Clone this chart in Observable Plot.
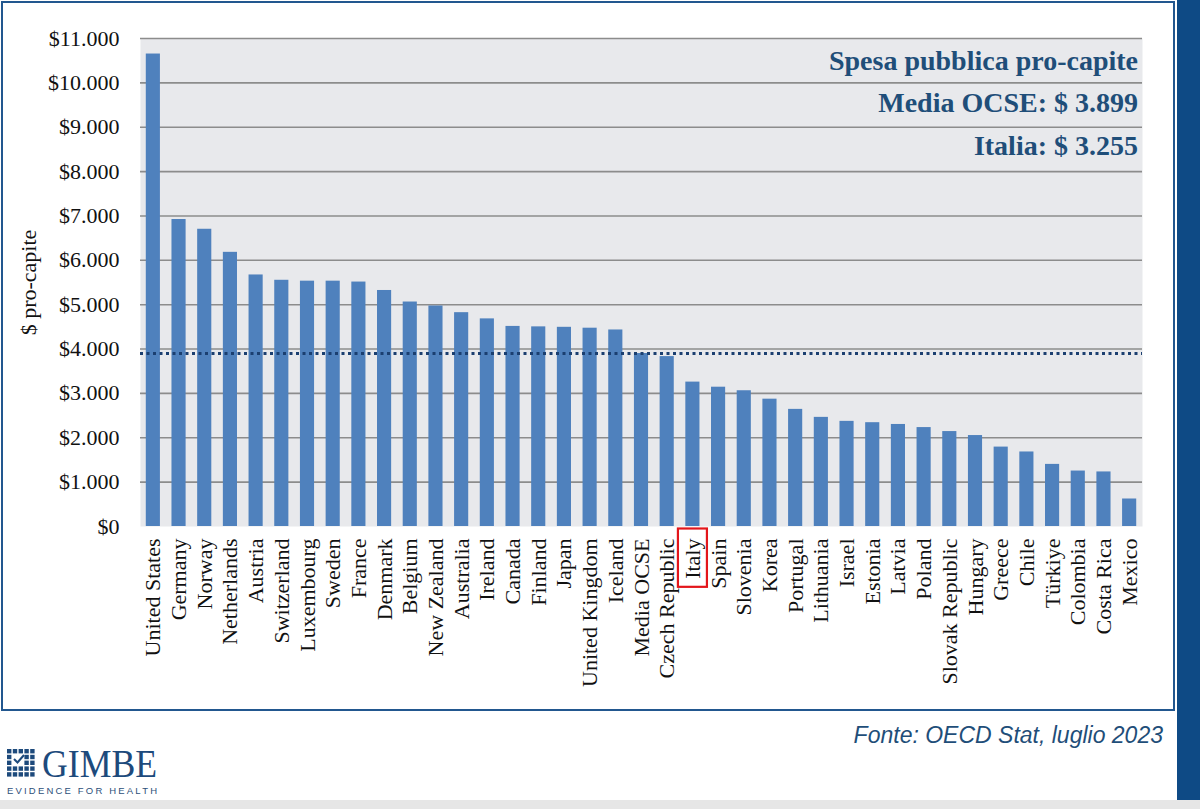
<!DOCTYPE html>
<html>
<head>
<meta charset="utf-8">
<script src="https://cdn.jsdelivr.net/npm/d3@7"></script>
<script src="https://cdn.jsdelivr.net/npm/@observablehq/plot@0.6"></script>
<style>
  html, body { margin: 0; padding: 0; background: #fff; }
  body { width: 1200px; height: 809px; position: relative; overflow: hidden; font-family: "Liberation Serif", serif; }
  #chart { position: absolute; left: 0; top: 0; }
  #frame { position: absolute; left: 1px; top: 1px; width: 1170px; height: 706px; border: 2px solid #22578f; pointer-events: none; }
  #rightbar { position: absolute; left: 1177px; top: 0; width: 23px; height: 800px; background: #0e4a85; }
  #bottomstrip { position: absolute; left: 0; top: 800px; width: 1200px; height: 9px; background: #e6e6e6; }
  .note { position: absolute; right: 62px; font-family: "Liberation Serif", serif; font-weight: bold; font-size: 28px; color: #1f4e79; white-space: nowrap; line-height: 1; }
  #caption { position: absolute; right: 37px; top: 722px; font-family: "Liberation Sans", sans-serif; font-style: italic; font-size: 23px; color: #1f4e79; white-space: nowrap; }
  #logo { position: absolute; left: 0; top: 736px; }
</style>
</head>
<body>
<div id="chart"></div>
<div id="frame"></div>
<div id="rightbar"></div>
<div id="bottomstrip"></div>
<div class="note" id="n1" style="top:47px">Spesa pubblica pro-capite</div>
<div class="note" id="n2" style="top:89px">Media OCSE: $ 3.899</div>
<div class="note" id="n3" style="top:132px">Italia: $ 3.255</div>
<div id="caption">Fonte: OECD Stat, luglio 2023</div>
<svg id="logo" width="220" height="64"></svg>
<script>
// ---- Data ----
const countries = ["United States","Germany","Norway","Netherlands","Austria","Switzerland","Luxembourg","Sweden","France","Denmark","Belgium","New Zealand","Australia","Ireland","Canada","Finland","Japan","United Kingdom","Iceland","Media OCSE","Czech Republic","Italy","Spain","Slovenia","Korea","Portugal","Lithuania","Israel","Estonia","Latvia","Poland","Slovak Republic","Hungary","Greece","Chile","Türkiye","Colombia","Costa Rica","Mexico"];
const spending = [10650, 6920, 6700, 6180, 5670, 5550, 5530, 5530, 5510, 5320, 5060, 4970, 4820, 4680, 4510, 4500, 4490, 4470, 4430, 3899, 3830, 3255, 3140, 3060, 2870, 2640, 2460, 2370, 2340, 2300, 2230, 2140, 2050, 1790, 1680, 1400, 1250, 1230, 620];
const oecdMean = 3899;
const highlighted = "Italy";
const yTicks = [0, 1000, 2000, 3000, 4000, 5000, 6000, 7000, 8000, 9000, 10000, 11000];
const yLabel = "$ pro-capite";

const data = countries.map((c, i) => ({country: c, value: spending[i]}));
const fmt = d => "$" + d3.format(",")(d).replace(/,/g, ".");

const chart = Plot.plot({
  width: 1172,
  height: 708,
  marginLeft: 140,
  marginRight: 30,
  marginTop: 38,
  marginBottom: 182,
  style: {fontFamily: "'Liberation Serif', serif", fontSize: "21px", color: "#111", background: "transparent"},
  x: {domain: countries, paddingInner: 0.45, paddingOuter: 0.225, round: false, label: null},
  y: {domain: [0, 11000], label: null},
  marks: [
    Plot.frame({fill: "#e8e9ec", stroke: null}),
    Plot.ruleY(yTicks.filter(d => d > 0), {stroke: "#8c8c8c", strokeWidth: 1.6}),
    Plot.barY(data, {x: "country", y: "value", fill: "#4f81bd"}),
    Plot.ruleY([oecdMean], {stroke: "#1b3f70", strokeWidth: 3, strokeDasharray: "3,3.5"}),
    Plot.axisY({ticks: yTicks, tickFormat: fmt, tickSize: 0, tickPadding: 21, fontSize: 22,
                label: yLabel, labelAnchor: "center", labelArrow: "none", labelOffset: 120}),
    Plot.axisX({tickRotate: -90, tickSize: 0, tickPadding: 12, fontSize: 22, label: null})
  ]
});
document.getElementById("chart").appendChild(chart);

// Red box around the highlighted country's tick label
const svg = chart.tagName.toLowerCase() === "svg" ? chart : chart.querySelector("svg");
const sRect = svg.getBoundingClientRect();
svg.querySelectorAll('[aria-label="x-axis tick label"] text').forEach(t => {
  if (t.textContent === highlighted) {
    const r = t.getBoundingClientRect();
    const rect = document.createElementNS("http://www.w3.org/2000/svg", "rect");
    rect.setAttribute("x", r.left - sRect.left - 2);
    rect.setAttribute("y", r.top - sRect.top - 10);
    rect.setAttribute("width", r.width + 4);
    rect.setAttribute("height", r.height + 18);
    rect.setAttribute("fill", "none");
    rect.setAttribute("stroke", "#e3161b");
    rect.setAttribute("stroke-width", 2.2);
    svg.appendChild(rect);
  }
});

// GIMBE logo
const logo = d3.select("#logo");
const navy = "#1d4a7c";
for (let r = 0; r < 5; r++) {
  for (let c = 0; c < 5; c++) {
    if ((r === 1 || r === 2) && (c === 1 || c === 2)) continue;
    logo.append("rect").attr("x", 7 + c * 5.8).attr("y", 13 + r * 5.8).attr("width", 4.4).attr("height", 4.4).attr("fill", navy);
  }
}
logo.append("path").attr("d", "M14 23 L17.5 26.5 L24 19").attr("fill", "none").attr("stroke", navy).attr("stroke-width", 2);
logo.append("text").attr("x", 42).attr("y", 41).attr("font-family", "Liberation Serif, serif").attr("font-size", 40)
  .attr("fill", navy).attr("textLength", 115).attr("lengthAdjust", "spacingAndGlyphs").text("GIMBE");
logo.append("text").attr("x", 7).attr("y", 58).attr("font-family", "Liberation Sans, sans-serif").attr("font-size", 9.5)
  .attr("fill", "#2d4f7a").attr("textLength", 150).attr("lengthAdjust", "spacing").text("EVIDENCE FOR HEALTH");
</script>
</body>
</html>
